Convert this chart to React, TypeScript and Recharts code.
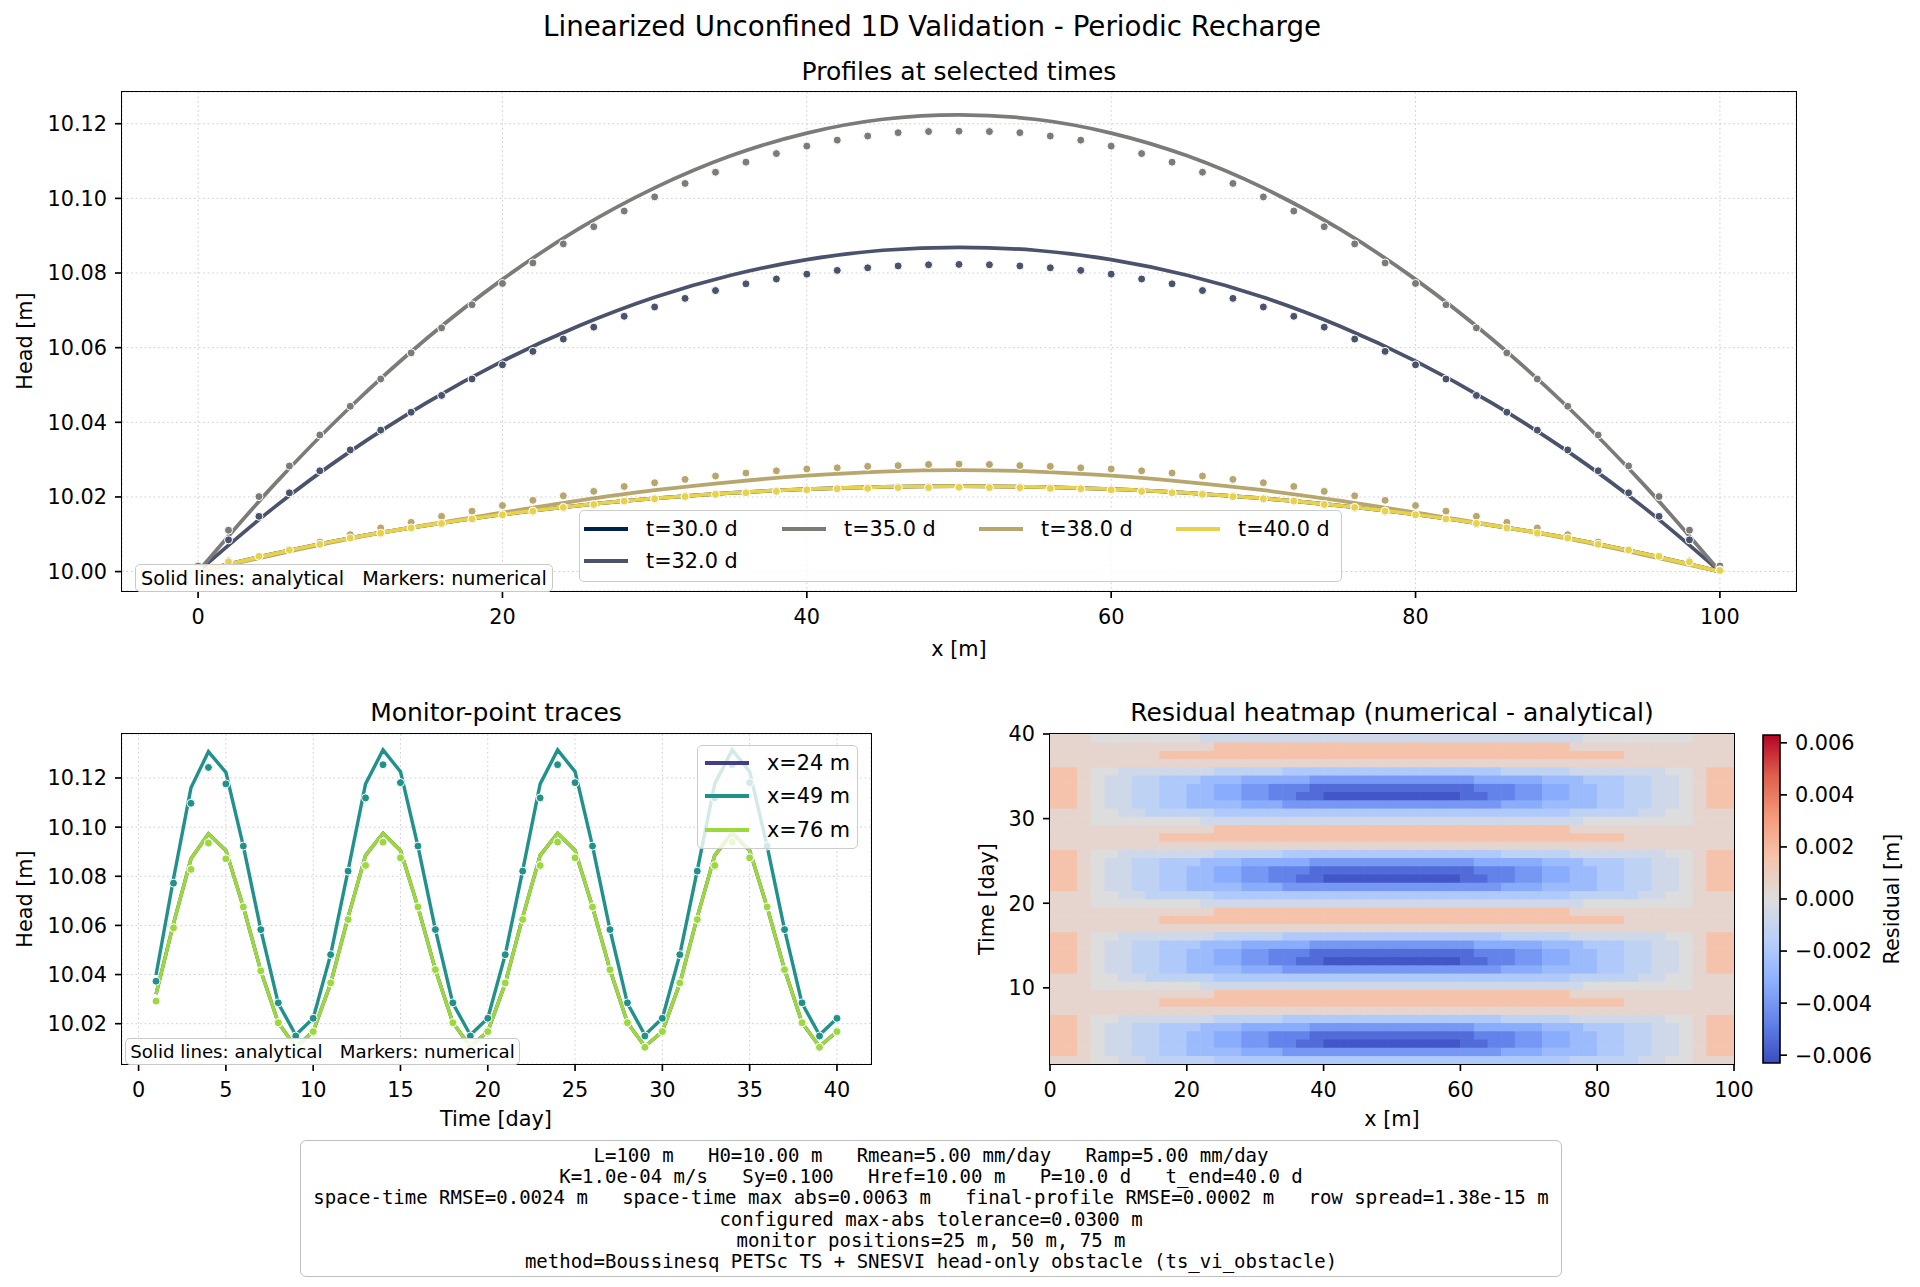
import React from "react";
import {
  ComposedChart,
  Line,
  Scatter,
  XAxis,
  YAxis,
  CartesianGrid,
  ReferenceArea,
} from "recharts";

const FONT = "DejaVu Sans";
const MONO = "DejaVu Sans Mono";

// ---------- profiles at selected times ----------
const profileX = [0, 5, 10, 15, 20, 25, 30, 35, 40, 45, 50, 55, 60, 65, 70, 75, 80, 85, 90, 95, 100];
const ana30 = [10.0, 10.0048, 10.009, 10.0124, 10.0153, 10.0177, 10.0196, 10.0211, 10.0221, 10.0227, 10.0229, 10.0227, 10.0221, 10.0211, 10.0196, 10.0177, 10.0153, 10.0124, 10.009, 10.0048, 10.0];
const ana32 = [10.0, 10.0172, 10.0322, 10.0452, 10.0564, 10.0658, 10.0735, 10.0794, 10.0836, 10.0861, 10.0869, 10.0861, 10.0836, 10.0794, 10.0735, 10.0658, 10.0564, 10.0452, 10.0322, 10.0172, 10.0];
const ana35 = [10.0, 10.0233, 10.0441, 10.0624, 10.0783, 10.0918, 10.1028, 10.1114, 10.1175, 10.1212, 10.1224, 10.1212, 10.1175, 10.1114, 10.1028, 10.0918, 10.0783, 10.0624, 10.0441, 10.0233, 10.0];
const ana38 = [10.0, 10.0045, 10.0088, 10.0125, 10.0158, 10.019, 10.0218, 10.024, 10.0257, 10.0268, 10.0272, 10.0268, 10.0257, 10.024, 10.0218, 10.019, 10.0158, 10.0125, 10.0088, 10.0045, 10.0];
const ana40 = [10.0, 10.0048, 10.009, 10.0124, 10.0153, 10.0177, 10.0196, 10.0211, 10.0221, 10.0227, 10.0229, 10.0227, 10.0221, 10.0211, 10.0196, 10.0177, 10.0153, 10.0124, 10.009, 10.0048, 10.0];

const numX = [0, 2, 4, 6, 8, 10, 12, 14, 16, 18, 20, 22, 24, 26, 28, 30, 32, 34, 36, 38, 40, 42, 44, 46, 48, 50, 52, 54, 56, 58, 60, 62, 64, 66, 68, 70, 72, 74, 76, 78, 80, 82, 84, 86, 88, 90, 92, 94, 96, 98, 100];
const num30 = [10.0003, 10.0026, 10.0041, 10.0058, 10.0073, 10.009, 10.0103, 10.0117, 10.0129, 10.0141, 10.0152, 10.0162, 10.0172, 10.018, 10.0189, 10.0195, 10.0201, 10.0207, 10.0211, 10.0215, 10.0219, 10.0222, 10.0223, 10.0225, 10.0225, 10.0226, 10.0225, 10.0225, 10.0223, 10.0222, 10.0219, 10.0215, 10.0211, 10.0207, 10.0201, 10.0195, 10.0189, 10.018, 10.0172, 10.0162, 10.0152, 10.0141, 10.0129, 10.0117, 10.0103, 10.009, 10.0073, 10.0058, 10.0041, 10.0026, 10.0003];
const num32 = [10.0012, 10.0085, 10.0148, 10.0211, 10.027, 10.0326, 10.0379, 10.0427, 10.0472, 10.0516, 10.0554, 10.059, 10.0623, 10.0655, 10.0684, 10.0709, 10.0732, 10.0753, 10.0771, 10.0784, 10.0797, 10.0807, 10.0814, 10.0819, 10.0822, 10.0823, 10.0822, 10.0819, 10.0814, 10.0807, 10.0797, 10.0784, 10.0771, 10.0753, 10.0732, 10.0709, 10.0684, 10.0655, 10.0623, 10.059, 10.0554, 10.0516, 10.0472, 10.0427, 10.0379, 10.0326, 10.027, 10.0211, 10.0148, 10.0085, 10.0012];
const num35 = [10.0015, 10.0111, 10.0201, 10.0283, 10.0366, 10.0443, 10.0516, 10.0586, 10.0653, 10.0715, 10.0772, 10.0827, 10.0878, 10.0924, 10.0966, 10.1004, 10.104, 10.107, 10.1097, 10.112, 10.114, 10.1156, 10.1167, 10.1176, 10.1179, 10.118, 10.1179, 10.1176, 10.1167, 10.1156, 10.114, 10.112, 10.1097, 10.107, 10.104, 10.1004, 10.0966, 10.0924, 10.0878, 10.0827, 10.0772, 10.0715, 10.0653, 10.0586, 10.0516, 10.0443, 10.0366, 10.0283, 10.0201, 10.0111, 10.0015];
const num38 = [10.0005, 10.0029, 10.0042, 10.0058, 10.0079, 10.0099, 10.0117, 10.0132, 10.0148, 10.0162, 10.0177, 10.0191, 10.0203, 10.0215, 10.0228, 10.0238, 10.0247, 10.0256, 10.0264, 10.027, 10.0275, 10.0278, 10.0282, 10.0284, 10.0287, 10.0288, 10.0287, 10.0284, 10.0282, 10.0278, 10.0275, 10.027, 10.0264, 10.0256, 10.0247, 10.0238, 10.0228, 10.0215, 10.0203, 10.0191, 10.0177, 10.0162, 10.0148, 10.0132, 10.0117, 10.0099, 10.0079, 10.0058, 10.0042, 10.0029, 10.0005];
const num40 = [10.0003, 10.0026, 10.0041, 10.0058, 10.0073, 10.009, 10.0103, 10.0117, 10.0129, 10.0141, 10.0152, 10.0162, 10.0172, 10.018, 10.0189, 10.0195, 10.0201, 10.0207, 10.0211, 10.0215, 10.0219, 10.0222, 10.0223, 10.0225, 10.0225, 10.0226, 10.0225, 10.0225, 10.0223, 10.0222, 10.0219, 10.0215, 10.0211, 10.0207, 10.0201, 10.0195, 10.0189, 10.018, 10.0172, 10.0162, 10.0152, 10.0141, 10.0129, 10.0117, 10.0103, 10.009, 10.0073, 10.0058, 10.0041, 10.0026, 10.0003];

const profileTimes = ["t=30.0 d", "t=32.0 d", "t=35.0 d", "t=38.0 d", "t=40.0 d"];
const profileColors = ["#00224e", "#4a536b", "#7c7b78", "#b7a76f", "#e8d24c"];
const profileAna = [ana30, ana32, ana35, ana38, ana40];
const profileNum = [num30, num32, num35, num38, num40];

// ---------- monitor-point traces ----------
const monT = [1, 2, 3, 4, 5, 6, 7, 8, 9, 10, 11, 12, 13, 14, 15, 16, 17, 18, 19, 20, 21, 22, 23, 24, 25, 26, 27, 28, 29, 30, 31, 32, 33, 34, 35, 36, 37, 38, 39, 40];
const ana24 = [
  10.032, 10.0607, 10.0871, 10.0973, 10.0905, 10.0675, 10.0415, 10.0204, 10.0105, 10.0168,
  10.0364, 10.0634, 10.0885, 10.0975, 10.0905, 10.0675, 10.042, 10.0204, 10.0107, 10.0168,
  10.0364, 10.0634, 10.0885, 10.0975, 10.0905, 10.0675, 10.042, 10.0204, 10.0107, 10.0168,
  10.0364, 10.0634, 10.0885, 10.0975, 10.0905, 10.0675, 10.042, 10.0204, 10.0107, 10.0168,
];
const num24 = [
  10.0292, 10.059, 10.0828, 10.0935, 10.0871, 10.0675, 10.0415, 10.0204, 10.0102, 10.0168,
  10.0366, 10.0624, 10.0844, 10.0939, 10.0875, 10.0675, 10.042, 10.0204, 10.0104, 10.0168,
  10.0366, 10.0624, 10.0844, 10.0939, 10.0875, 10.0675, 10.042, 10.0204, 10.0104, 10.0168,
  10.0366, 10.0624, 10.0844, 10.0939, 10.0875, 10.0675, 10.042, 10.0204, 10.0104, 10.0168,
];
const ana49 = [
  10.0398, 10.079, 10.116, 10.1307, 10.1223, 10.0923, 10.0583, 10.0283, 10.0154, 10.0222,
  10.0481, 10.0824, 10.1176, 10.1314, 10.1226, 10.0923, 10.0583, 10.0283, 10.0154, 10.0222,
  10.0481, 10.0824, 10.1176, 10.1314, 10.1226, 10.0923, 10.0583, 10.0283, 10.0154, 10.0222,
  10.0481, 10.0824, 10.1176, 10.1314, 10.1226, 10.0923, 10.0583, 10.0283, 10.0154, 10.0222,
];
const num49 = [
  10.0373, 10.0772, 10.1097, 10.1243, 10.1176, 10.0923, 10.0583, 10.0285, 10.015, 10.0222,
  10.0481, 10.0821, 10.1119, 10.1254, 10.1181, 10.0923, 10.0583, 10.0285, 10.015, 10.0222,
  10.0481, 10.0821, 10.1119, 10.1254, 10.1181, 10.0923, 10.0583, 10.0285, 10.015, 10.0222,
  10.0481, 10.0821, 10.1119, 10.1254, 10.1181, 10.0923, 10.0583, 10.0285, 10.015, 10.0222,
];
const ana76 = [
  10.032, 10.0607, 10.0871, 10.0973, 10.0905, 10.0675, 10.0415, 10.0204, 10.0105, 10.0168,
  10.0364, 10.0634, 10.0885, 10.0975, 10.0905, 10.0675, 10.042, 10.0204, 10.0107, 10.0168,
  10.0364, 10.0634, 10.0885, 10.0975, 10.0905, 10.0675, 10.042, 10.0204, 10.0107, 10.0168,
  10.0364, 10.0634, 10.0885, 10.0975, 10.0905, 10.0675, 10.042, 10.0204, 10.0107, 10.0168,
];
const num76 = [
  10.0292, 10.059, 10.0828, 10.0935, 10.0871, 10.0675, 10.0415, 10.0204, 10.0102, 10.0168,
  10.0366, 10.0624, 10.0844, 10.0939, 10.0875, 10.0675, 10.042, 10.0204, 10.0104, 10.0168,
  10.0366, 10.0624, 10.0844, 10.0939, 10.0875, 10.0675, 10.042, 10.0204, 10.0104, 10.0168,
  10.0366, 10.0624, 10.0844, 10.0939, 10.0875, 10.0675, 10.042, 10.0204, 10.0104, 10.0168,
];
const monitorNames = ["x=24 m", "x=49 m", "x=76 m"];
const monitorColors = ["#433e85", "#21918c", "#9bd93c"];
const monitorAna = [ana24, ana49, ana76];
const monitorNum = [num24, num49, num76];

// ---------- residual heatmap (rows t=1..40, columns x=0..100 in 2 m cells) ----------
const residualLevels: Record<string, number> = {
  P: 0.0016, p: 0.0005, "0": 0.0, a: -0.0006, b: -0.0013, c: -0.0019,
  d: -0.0026, e: -0.0033, f: -0.004, g: -0.0047, h: -0.0054, i: -0.006,
};
const r1 = "ppp00aabbbbbccccccccccccc" + "cccccccccccccbbbbbaa00ppp";
const r2 = "PPp0aabbccddddeeeffffffff" + "ffffffffeeeddddccbbaa0pPP";
const r3 = "PPp0aabbccddeeffgghhiiiii" + "iiiiihhggffeeddccbbaa0pPP";
const r4 = "PPp0aabbccddeeffggghhhhhh" + "hhhhhhgggffeeddccbbaa0pPP";
const r5 = "PPp0aabbcccdddeeeeeffffff" + "ffffffeeeeedddcccbbaa0pPP";
const r6 = "PPp00aaaaaaabbbbbcccccccc" + "ccccccccbbbbbaaaaaaa00pPP";
const r7 = "ppppppppppppppppppppppppp" + "ppppppppppppppppppppppppp";
const r8 = "ppppppppPPPPPPPPPPPPPPPPP" + "PPPPPPPPPPPPPPPPPpppppppp";
const r9 = "ppppppppppppPPPPPPPPPPPPP" + "PPPPPPPPPPPPPpppppppppppp";
const r10 = "ppp00000000aaaaaaaaaaaaaa" + "aaaaaaaaaaaaaa00000000ppp";
const heatRows = [
  r1, r2, r3, r4, r5, r6, r7, r8, r9, r10,
  r1, r2, r3, r4, r5, r6, r7, r8, r9, r10,
  r1, r2, r3, r4, r5, r6, r7, r8, r9, r10,
  r1, r2, r3, r4, r5, r6, r7, r8, r9, r10,
];
const heatX = Array.from({ length: 50 }, (_, j) => 1 + 2 * j);
const heatT = heatRows.map((_, k) => 1 + (39 / 40) * (k + 0.5));
const VMAX = 0.0063;

const coolwarmStops = [
  [59, 76, 192], [98, 130, 234], [141, 176, 254], [184, 208, 249], [221, 221, 221],
  [245, 196, 173], [244, 154, 123], [222, 96, 77], [180, 4, 38],
];

function coolwarm(v: number) {
  const n = Math.max(0, Math.min(1, (v + VMAX) / (2 * VMAX)));
  const s = n * 8;
  const i = Math.min(7, Math.floor(s));
  const f = s - i;
  const a = coolwarmStops[i];
  const b = coolwarmStops[i + 1];
  const c = a.map((ch, k) => Math.round(ch + (b[k] - ch) * f));
  return `rgb(${c[0]},${c[1]},${c[2]})`;
}

const heatCells = heatRows.flatMap((row, k) =>
  row.split("").map((ch, j) => ({ x: heatX[j], t: heatT[k], r: residualLevels[ch] }))
);

const infoLines = [
  "L=100 m   H0=10.00 m   Rmean=5.00 mm/day   Ramp=5.00 mm/day",
  "K=1.0e-04 m/s   Sy=0.100   Href=10.00 m   P=10.0 d   t_end=40.0 d",
  "space-time RMSE=0.0024 m   space-time max abs=0.0063 m   final-profile RMSE=0.0002 m   row spread=1.38e-15 m",
  "configured max-abs tolerance=0.0300 m",
  "monitor positions=25 m, 50 m, 75 m",
  "method=Boussinesq PETSc TS + SNESVI head-only obstacle (ts_vi_obstacle)",
];

// ---------- shared styles ----------
const tickStyle = { fill: "#000", fontSize: 20.8, fontFamily: FONT };
const tickLine = { stroke: "#000", strokeWidth: 1.67 };
const gridColor = "#d0d0d0";

const Dot = (color: string) => (p: any) =>
  p.cx == null ? <g /> : <circle cx={p.cx} cy={p.cy} r={4} fill={color} stroke="#fff" strokeWidth={1} />;

function Text({ x, y, size = 20.8, rotate = 0, family = FONT, children }: any) {
  return (
    <div
      style={{
        position: "absolute",
        left: x,
        top: y,
        transform: `translate(-50%, -50%) rotate(${rotate}deg)`,
        fontFamily: family,
        fontSize: size,
        whiteSpace: "pre",
        color: "#000",
        lineHeight: 1,
      }}
    >
      {children}
    </div>
  );
}

function Frame({ x, y, w, h }: any) {
  return (
    <div
      style={{
        position: "absolute",
        left: x - 0.8,
        top: y - 0.8,
        width: w + 1.6,
        height: h + 1.6,
        border: "1.6px solid #000",
        boxSizing: "border-box",
        pointerEvents: "none",
      }}
    />
  );
}

function NoteBox({ x, y, w, h, size }: any) {
  return (
    <div
      style={{
        position: "absolute",
        left: x,
        top: y,
        width: w,
        height: h,
        boxSizing: "border-box",
        border: "1.5px solid #c8c8c8",
        borderRadius: 5,
        background: "rgba(255,255,255,0.85)",
        fontFamily: FONT,
        fontSize: size,
        display: "flex",
        alignItems: "center",
        justifyContent: "center",
        whiteSpace: "pre",
      }}
    >
      {"Solid lines: analytical   Markers: numerical"}
    </div>
  );
}

function ProfilesChart() {
  return (
    <div style={{ position: "absolute", left: 0, top: 0 }}>
      <ComposedChart width={1920} height={660} margin={{ top: 92, right: 124, bottom: 29, left: 22 }}>
        <CartesianGrid stroke={gridColor} strokeDasharray="1.7 2.8" />
        <XAxis
          type="number"
          dataKey="x"
          domain={[-5, 105]}
          ticks={[0, 20, 40, 60, 80, 100]}
          allowDataOverflow
          height={40}
          axisLine={false}
          tickSize={7}
          tickMargin={11}
          tick={tickStyle}
          tickLine={tickLine}
        />
        <YAxis
          type="number"
          dataKey="y"
          domain={[9.9948, 10.1285]}
          ticks={[10.0, 10.02, 10.04, 10.06, 10.08, 10.1, 10.12]}
          allowDataOverflow
          width={100}
          axisLine={false}
          tickSize={7}
          tickMargin={8}
          tick={tickStyle}
          tickLine={tickLine}
          tickFormatter={(v: number) => v.toFixed(2)}
        />
        {profileTimes.map((name, s) => (
          <React.Fragment key={name}>
            <Line
              data={profileX.map((x, i) => ({ x, y: profileAna[s][i] }))}
              dataKey="y"
              type="monotone"
              stroke={profileColors[s]}
              strokeWidth={3.75}
              dot={false}
              activeDot={false}
              isAnimationActive={false}
            />
            <Scatter
              data={numX.map((x, i) => ({ x, y: profileNum[s][i] }))}
              dataKey="y"
              shape={Dot(profileColors[s])}
              isAnimationActive={false}
            />
          </React.Fragment>
        ))}
      </ComposedChart>
    </div>
  );
}

function MonitorChart() {
  return (
    <div style={{ position: "absolute", left: 0, top: 680 }}>
      <ComposedChart width={900} height={440} margin={{ top: 54, right: 29, bottom: 16, left: 22 }}>
        <CartesianGrid stroke={gridColor} strokeDasharray="1.7 2.8" />
        <XAxis
          type="number"
          dataKey="x"
          domain={[-0.95, 41.95]}
          ticks={[0, 5, 10, 15, 20, 25, 30, 35, 40]}
          allowDataOverflow
          height={40}
          axisLine={false}
          tickSize={7}
          tickMargin={11}
          tick={tickStyle}
          tickLine={tickLine}
        />
        <YAxis
          type="number"
          dataKey="y"
          domain={[10.0036, 10.1379]}
          ticks={[10.02, 10.04, 10.06, 10.08, 10.1, 10.12]}
          allowDataOverflow
          width={100}
          axisLine={false}
          tickSize={7}
          tickMargin={8}
          tick={tickStyle}
          tickLine={tickLine}
          tickFormatter={(v: number) => v.toFixed(2)}
        />
        {monitorNames.map((name, s) => (
          <React.Fragment key={name}>
            <Line
              data={monT.map((x, i) => ({ x, y: monitorAna[s][i] }))}
              dataKey="y"
              type="linear"
              stroke={monitorColors[s]}
              strokeWidth={3.4}
              dot={false}
              activeDot={false}
              isAnimationActive={false}
            />
            <Scatter
              data={monT.map((x, i) => ({ x, y: monitorNum[s][i] }))}
              dataKey="y"
              shape={Dot(monitorColors[s])}
              isAnimationActive={false}
            />
          </React.Fragment>
        ))}
      </ComposedChart>
    </div>
  );
}

const CELL_W = 684 / 50;
const CELL_H = 330 / 40;

const HeatCell = (p: any) =>
  p.cx == null ? (
    <g />
  ) : (
    <rect
      x={p.cx - CELL_W / 2 - 0.3}
      y={p.cy - CELL_H / 2 - 0.3}
      width={CELL_W + 0.6}
      height={CELL_H + 0.6}
      fill={coolwarm(p.payload.r)}
    />
  );

function HeatmapChart() {
  return (
    <div style={{ position: "absolute", left: 940, top: 680 }}>
      <ComposedChart width={820} height={440} margin={{ top: 54, right: 26, bottom: 16, left: 50 }}>
        <XAxis
          type="number"
          dataKey="x"
          domain={[0, 100]}
          ticks={[0, 20, 40, 60, 80, 100]}
          allowDataOverflow
          height={40}
          axisLine={false}
          tickSize={7}
          tickMargin={11}
          tick={tickStyle}
          tickLine={tickLine}
        />
        <YAxis
          type="number"
          dataKey="t"
          domain={[1, 40]}
          ticks={[10, 20, 30, 40]}
          allowDataOverflow
          width={60}
          axisLine={false}
          tickSize={7}
          tickMargin={8}
          tick={tickStyle}
          tickLine={tickLine}
        />
        <Scatter data={heatCells} dataKey="t" shape={HeatCell} isAnimationActive={false} />
      </ComposedChart>
    </div>
  );
}

const cbarTicks = [-0.006, -0.004, -0.002, 0, 0.002, 0.004, 0.006];

function ColorbarChart() {
  return (
    <div style={{ position: "absolute", left: 1740, top: 680 }}>
      <ComposedChart
        width={180}
        height={440}
        data={[{ x: 0.5, y: 0 }]}
        margin={{ top: 55, right: 80, bottom: 57, left: 23 }}
      >
        <defs>
          <linearGradient id="coolwarmBar" x1="0" y1="1" x2="0" y2="0">
            {coolwarmStops.map((c, k) => (
              <stop key={k} offset={`${(k / 8) * 100}%`} stopColor={`rgb(${c[0]},${c[1]},${c[2]})`} />
            ))}
          </linearGradient>
        </defs>
        <XAxis type="number" dataKey="x" domain={[0, 1]} hide />
        <YAxis
          type="number"
          dataKey="y"
          orientation="right"
          domain={[-VMAX, VMAX]}
          ticks={cbarTicks}
          allowDataOverflow
          width={60}
          axisLine={false}
          tickSize={7}
          tickMargin={8}
          tick={tickStyle}
          tickLine={tickLine}
          tickFormatter={(v: number) => (Math.abs(v) < 1e-9 ? "0.000" : v.toFixed(3).replace("-", "\u2212"))}
        />
        <ReferenceArea
          x1={0}
          x2={1}
          y1={-VMAX}
          y2={VMAX}
          fill="url(#coolwarmBar)"
          fillOpacity={1}
          stroke="#000"
          strokeWidth={1.6}
          ifOverflow="visible"
        />
        <Scatter dataKey="y" shape={() => <g />} isAnimationActive={false} />
      </ComposedChart>
    </div>
  );
}

function LegendHandle({ x, y, color, label }: any) {
  return (
    <>
      <div style={{ position: "absolute", left: x, top: y - 1.9, width: 44, height: 3.8, background: color }} />
      <div
        style={{
          position: "absolute",
          left: x + 62,
          top: y,
          transform: "translateY(-50%)",
          fontFamily: FONT,
          fontSize: 20.8,
          lineHeight: 1,
          whiteSpace: "pre",
        }}
      >
        {label}
      </div>
    </>
  );
}

const legendBox = {
  position: "absolute" as const,
  boxSizing: "border-box" as const,
  border: "1.5px solid #cccccc",
  borderRadius: 5,
  background: "rgba(255,255,255,0.8)",
};

export default function App() {
  const topLegendPos = [
    [584, 529],
    [584, 561],
    [782, 529],
    [979, 529],
    [1176, 529],
  ];
  const monLegendY = [763, 796, 830];
  return (
    <div style={{ position: "absolute", left: 0, top: 0, width: 1920, height: 1287, background: "#fff", overflow: "hidden" }}>
      <ProfilesChart />
      <MonitorChart />
      <HeatmapChart />
      <ColorbarChart />

      <Frame x={122} y={92} w={1674} h={499} />
      <Frame x={122} y={734} w={749} h={330} />
      <Frame x={1050} y={734} w={684} h={330} />

      <Text x={932} y={27} size={27.7}>Linearized Unconfined 1D Validation - Periodic Recharge</Text>
      <Text x={959} y={71} size={25}>Profiles at selected times</Text>
      <Text x={959} y={649}>x [m]</Text>
      <Text x={25} y={341} rotate={-90}>Head [m]</Text>

      <Text x={496} y={712} size={25}>Monitor-point traces</Text>
      <Text x={496} y={1119}>Time [day]</Text>
      <Text x={25} y={899} rotate={-90}>Head [m]</Text>

      <Text x={1392} y={712} size={25}>Residual heatmap (numerical - analytical)</Text>
      <Text x={1392} y={1119}>x [m]</Text>
      <Text x={987} y={899} rotate={-90}>Time [day]</Text>
      <Text x={1892} y={899} rotate={-90}>Residual [m]</Text>

      {/* profile legend */}
      <div style={{ ...legendBox, left: 579, top: 510, width: 763, height: 72 }} />
      {profileTimes.map((label, s) => (
        <LegendHandle key={label} x={topLegendPos[s][0]} y={topLegendPos[s][1]} color={profileColors[s]} label={label} />
      ))}
      <NoteBox x={135} y={564} w={418} h={28} size={19.2} />

      {/* monitor legend */}
      <div style={{ ...legendBox, left: 697, top: 745, width: 161, height: 104 }} />
      {monitorNames.map((label, s) => (
        <LegendHandle key={label} x={705} y={monLegendY[s]} color={monitorColors[s]} label={label} />
      ))}
      <NoteBox x={125} y={1038} w={395} h={27} size={18.2} />

      {/* info box */}
      <div
        style={{
          position: "absolute",
          left: 300,
          top: 1140,
          width: 1262,
          height: 137,
          boxSizing: "border-box",
          border: "1.5px solid #c0c0c0",
          borderRadius: 6,
          background: "#fff",
          display: "flex",
          flexDirection: "column",
          alignItems: "center",
          justifyContent: "center",
          fontFamily: MONO,
          fontSize: 19,
          lineHeight: "21.3px",
          whiteSpace: "pre",
        }}
      >
        {infoLines.map((l) => (
          <div key={l}>{l}</div>
        ))}
      </div>
    </div>
  );
}
